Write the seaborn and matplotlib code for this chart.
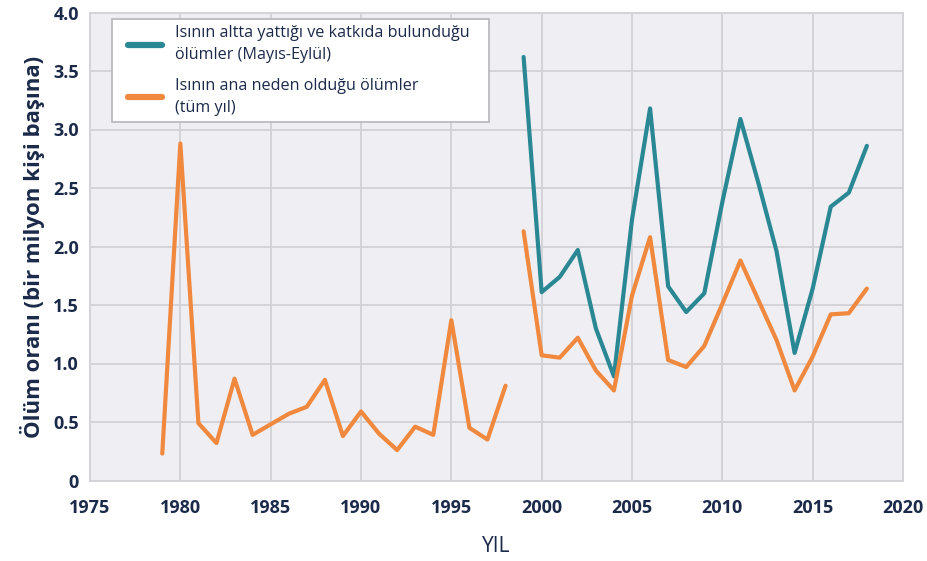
import numpy as np
import pandas as pd
import matplotlib
matplotlib.use("Agg")
import matplotlib.pyplot as plt
from matplotlib.lines import Line2D
from matplotlib.legend_handler import HandlerLine2D
import seaborn as sns

# Heat-related death rates (deaths per million people)
years_primary_1 = list(range(1979, 1999))
primary_1 = [0.23, 2.88, 0.49, 0.32, 0.87, 0.39, 0.48, 0.57, 0.63, 0.86,
             0.38, 0.59, 0.40, 0.26, 0.46, 0.39, 1.37, 0.45, 0.35, 0.81]

years_recent = list(range(1999, 2019))
primary_2 = [2.13, 1.07, 1.05, 1.22, 0.94, 0.77, 1.58, 2.08, 1.03, 0.97,
             1.15, 1.51, 1.88, 1.54, 1.20, 0.77, 1.06, 1.42, 1.43, 1.64]
underlying = [3.62, 1.61, 1.74, 1.97, 1.30, 0.89, 2.23, 3.18, 1.66, 1.44,
              1.60, 2.38, 3.09, 2.54, 1.96, 1.09, 1.64, 2.34, 2.46, 2.86]

label_underlying = "Isının altta yattığı ve katkıda bulunduğu\nölümler (Mayıs-Eylül)"
label_primary = "Isının ana neden olduğu ölümler\n(tüm yıl)"

x_ticks = [1975, 1980, 1985, 1990, 1995, 2000, 2005, 2010, 2015, 2020]
y_ticks = [0, 0.5, 1.0, 1.5, 2.0, 2.5, 3.0, 3.5, 4.0]
y_tick_labels = ["0", "0.5", "1.0", "1.5", "2.0", "2.5", "3.0", "3.5", "4.0"]

teal = "#2a8794"
orange = "#f0883e"
navy = "#1c2a4a"

df = pd.concat([
    pd.DataFrame({"yil": years_recent, "oran": underlying,
                  "seri": label_underlying, "parca": "u"}),
    pd.DataFrame({"yil": years_primary_1, "oran": primary_1,
                  "seri": label_primary, "parca": "p1"}),
    pd.DataFrame({"yil": years_recent, "oran": primary_2,
                  "seri": label_primary, "parca": "p2"}),
], ignore_index=True)

sns.set_theme(style="whitegrid")
plt.rcParams["font.family"] = ["Open Sans", "DejaVu Sans"]

fig = plt.figure(figsize=(9.27, 5.61), dpi=100)
ax = fig.add_axes([90 / 927, 1 - 480.5 / 561, (903 - 90) / 927, (480.5 - 12.5) / 561])
ax.set_facecolor("#efeef3")

sns.lineplot(data=df, x="yil", y="oran", hue="seri", units="parca",
             estimator=None, palette={label_underlying: teal, label_primary: orange},
             linewidth=3.0, legend=False, ax=ax, zorder=3)

ax.set_xlim(1975, 2020)
ax.set_ylim(0, 4)
ax.set_xticks(x_ticks)
ax.set_yticks(y_ticks)
ax.set_yticklabels(y_tick_labels)
ax.grid(True, color="#d3d3d8", linewidth=1.4)
for s in ax.spines.values():
    s.set_color("#d3d3d8")
    s.set_linewidth(1.4)
ax.tick_params(axis="both", length=0, labelcolor=navy, labelsize=13)
ax.tick_params(axis="y", pad=8)
ax.tick_params(axis="x", pad=13)
for t in ax.get_xticklabels() + ax.get_yticklabels():
    t.set_fontweight("bold")

ax.set_xlabel("YIL", fontsize=15, color=navy, labelpad=14)
ax.set_ylabel("Ölüm oranı (bir milyon kişi başına)", fontsize=16,
              fontweight="bold", color=navy, labelpad=6)

# Legend box stretched across its anchor rectangle
handles = [Line2D([], [], color=teal, linewidth=4.5, solid_capstyle="round"),
           Line2D([], [], color=orange, linewidth=4.5, solid_capstyle="round")]
box_x0, box_x1 = 112 / 927, 489 / 927
box_top = 1 - 19 / 561
leg = ax.legend(handles, [label_underlying, label_primary],
                loc="upper left", mode="expand",
                bbox_to_anchor=(box_x0, box_top - 0.2, box_x1 - box_x0, 0.2),
                bbox_transform=fig.transFigure, borderaxespad=0,
                fontsize=11.6, frameon=True, fancybox=False, framealpha=1,
                handlelength=2.7, handletextpad=0.8, labelspacing=0.95,
                borderpad=0.4, labelcolor=navy,
                handler_map={Line2D: HandlerLine2D(xpad=0.62)})
for t in leg.get_texts():
    t.set_linespacing(1.45)
leg.get_frame().set_edgecolor("#b5b5ba")
leg.get_frame().set_linewidth(1.2)
leg.set_zorder(5)

fig.savefig("out.png", dpi=100, facecolor="white")
